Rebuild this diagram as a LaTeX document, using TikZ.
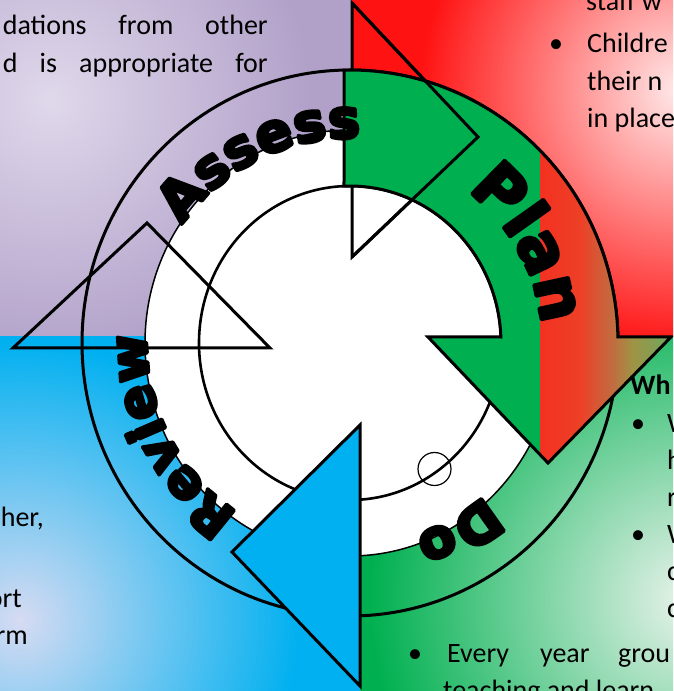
\documentclass[tikz,border=0pt]{standalone}
\usepackage{fontspec}
\setmainfont{Carlito}
\newfontfamily\heavyfont{DejaVu Sans}
\usetikzlibrary{decorations.text}

\definecolor{lilac}{RGB}{177,161,201}
\definecolor{lilaclight}{RGB}{224,216,235}
\definecolor{redbg}{RGB}{255,18,18}
\definecolor{redlight}{RGB}{255,234,234}
\definecolor{bluebg}{RGB}{0,176,240}
\definecolor{bluelight}{RGB}{214,219,242}
\definecolor{greenbg}{RGB}{0,176,80}
\definecolor{greenlight}{RGB}{234,243,236}
\definecolor{plangreen}{RGB}{0,176,80}

% red to olive band on the right part of the plan arrow
\pgfdeclarehorizontalshading{planstrip}{100bp}{rgb(0bp)=(1,0.1,0.1); rgb(40bp)=(0.93,0.25,0.15); rgb(52bp)=(0.76,0.42,0.25); rgb(60bp)=(0.62,0.58,0.27); rgb(75bp)=(0.42,0.66,0.38); rgb(100bp)=(0.22,0.7,0.42)}

% plan arrow: ring piece from the top round to the right, head pointing down
\newcommand{\plancurve}{(91.28:268 and 273) arc[start angle=91.28, end angle=1.26, x radius=268, y radius=273]
  -- (321,6) -- (198,-120) -- (78,6)
  -- (2.19:151 and 157) arc[start angle=2.19, end angle=92.28, x radius=151, y radius=157] -- cycle}
% heavy letters: filled and stroked
\newcommand{\ringfont}[1]{\special{pdf:literal direct 2 Tr 3.4 w 1 j}\heavyfont\bfseries\fontsize{#1}{#1}\selectfont}

\tikzset{
  outline/.style={line width=3pt, line join=miter},
  bodytext/.style={inner sep=0pt, font=\fontsize{28}{37}\selectfont},
  ringtext/.style={decorate, decoration={text along path, text align=center, text={#1}}}
}

\begin{document}
\begin{tikzpicture}[x=1pt,y=1pt]
  \useasboundingbox (0,0) rectangle (673,691);
  \clip (0,0) rectangle (673,691);

  % four coloured corners
  \begin{scope}
    \clip (0,355) rectangle (352,691);
    \fill[lilac] (0,355) rectangle (352,691);
    \shade[inner color=lilaclight, outer color=lilac] (50,591) circle (260);
  \end{scope}
  \begin{scope}
    \clip (352,354) rectangle (673,691);
    \fill[redbg] (352,354) rectangle (673,691);
    \shade[inner color=redlight, outer color=redbg] (680,601) circle (260);
  \end{scope}
  \begin{scope}
    \clip (0,0) rectangle (360,355);
    \fill[bluebg] (0,0) rectangle (360,355);
    \shade[inner color=bluelight, outer color=bluebg] (20,71) circle (280);
  \end{scope}
  \begin{scope}
    \clip (360,0) rectangle (673,354);
    \fill[greenbg] (360,0) rectangle (673,354);
    \shade[inner color=greenlight, outer color=greenbg] (690,91) circle (320);
  \end{scope}

  \begin{scope}[shift={(350,348)}]
    % white middle, outer ring and inner ring
    \draw[fill=white, line width=1.5pt] (0,0) ellipse [x radius=205, y radius=213];
    \draw[outline] (0,0) ellipse [x radius=268, y radius=273];
    \draw[line width=2.6pt] (0,0) ellipse [x radius=151, y radius=157];
  \end{scope}

  % head of the assess arrow
  \draw[outline] (352,688) -- (478,554) -- (352,434) -- cycle;

  \begin{scope}[shift={(350,348)}]
    \fill[plangreen] \plancurve;
    \begin{scope}
      \clip \plancurve;
      \shade[shading=planstrip] (190,-200) rectangle (323,300);
    \end{scope}
    \draw[outline] \plancurve;
  \end{scope}
  \draw[outline] (352,688) -- (478,554) -- (352,434);

  % head of the do arrow
  \draw[outline, fill=bluebg] (360,266) -- (232,139) -- (360,5) -- cycle;
  % head of the review arrow
  \draw[outline] (13,343) -- (147,468) -- (270,343) -- cycle;
  \draw[line width=1.2pt] (434.5,222) circle (16.5);

  % words round the ring
  \begin{scope}[shift={(350,348)}]
    \path[ringtext={|\ringfont{54}|Assess}]
      (176:205) arc[start angle=176, end angle=56, radius=205];
    \path[ringtext={|\ringfont{64}|Plan}]
      (89:192) arc[start angle=89, end angle=-31, radius=192];
    \path[ringtext={|\ringfont{52}|Review}]
      (267:203) arc[start angle=267, end angle=147, radius=203];
    \path[ringtext={|\ringfont{54}|Do}]
      (360:203) arc[start angle=360, end angle=240, radius=203];
  \end{scope}

  % text round the cycle
  \node[bodytext, anchor=base east] (assessa) at (268,656) {\makebox[265pt][s]{dations from other}};
  \node[bodytext, anchor=base east] (assessb) at (268,618) {\makebox[265pt][s]{d is appropriate for}};

  \node[bodytext, anchor=base west] (plana) at (586,680) {staff w};
  \node[bodytext, anchor=base] (planbul) at (556,638) {\textbullet};
  \node[bodytext, anchor=base west] (planb) at (587,638) {Childre};
  \node[bodytext, anchor=base west] (planc) at (587,600) {their n};
  \node[bodytext, anchor=base west] (pland) at (587,563) {in place};

  \node[bodytext, anchor=base west] (dohead) at (630,296) {\bfseries Wh};
  \node[bodytext, anchor=base] (dobula) at (638,258) {\textbullet};
  \node[bodytext, anchor=base west] (doa) at (667,258) {W};
  \node[bodytext, anchor=base west] (dob) at (667,221) {h};
  \node[bodytext, anchor=base west] (doc) at (667,184) {r};
  \node[bodytext, anchor=base] (dobulb) at (638,147) {\textbullet};
  \node[bodytext, anchor=base west] (dod) at (667,147) {W};
  \node[bodytext, anchor=base west] (doe) at (667,110) {c};
  \node[bodytext, anchor=base west] (dof) at (667,73) {c};

  \node[bodytext, anchor=base] (yearbul) at (415,28) {\textbullet};
  \node[bodytext, anchor=base west] (yeara) at (447,28) {Every};
  \node[bodytext, anchor=base west] (yearb) at (540,28) {year};
  \node[bodytext, anchor=base west] (yearc) at (618,28) {grou};
  \node[bodytext, anchor=base west] (yeard) at (443,-9) {teaching and learn};

  \node[bodytext, anchor=base east] (reviewa) at (44,164) {her,};
  \node[bodytext, anchor=base east] (reviewb) at (22,83) {ort};
  \node[bodytext, anchor=base east] (reviewc) at (28,46) {rm};
\end{tikzpicture}
\end{document}
